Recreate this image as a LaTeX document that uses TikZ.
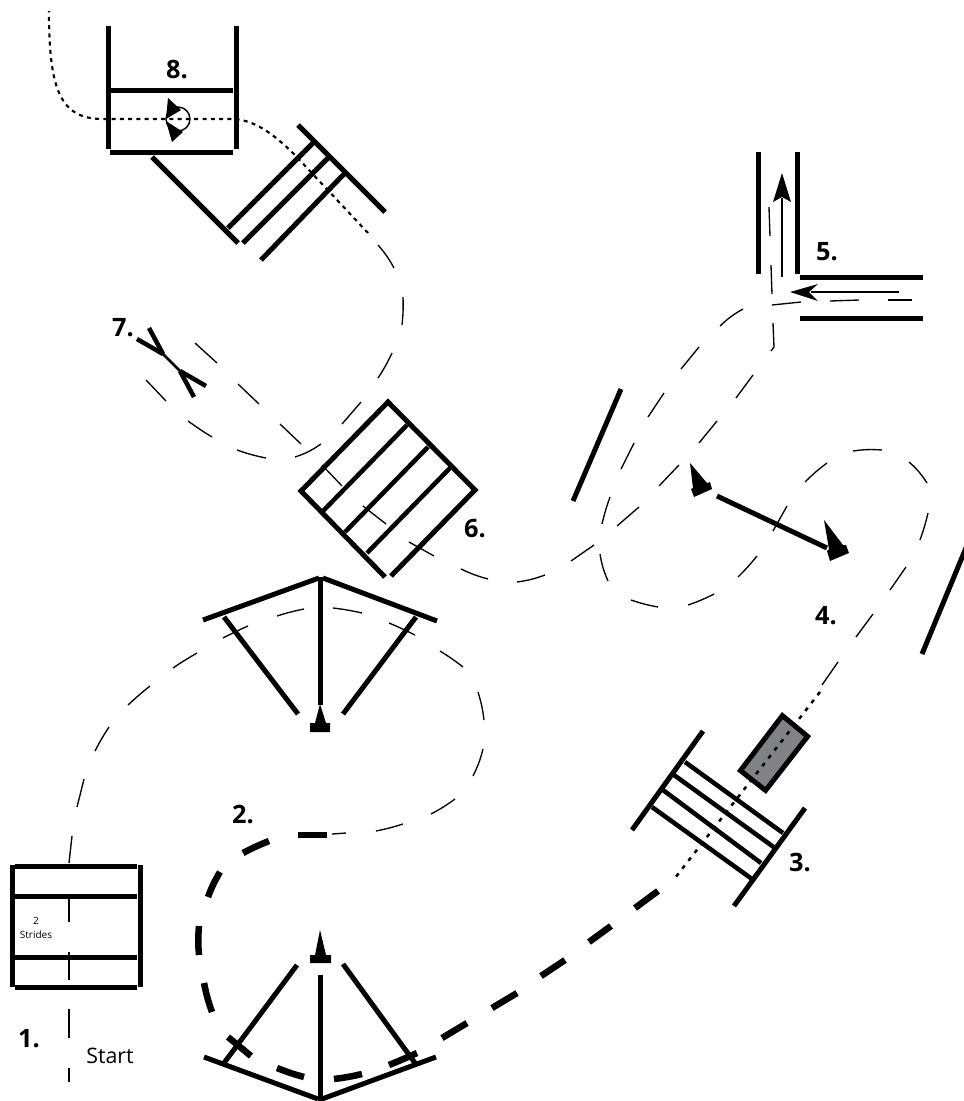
\documentclass[tikz,border=0pt]{standalone}
\usepackage{fontspec}
\setmainfont{Open Sans}
\definecolor{JumpGrey}{HTML}{808285}
\tikzset{
  pole/.style={black,line width=3.75pt},
  rail/.style={black,line width=3.4pt},
  route/.style={black,line width=1pt},
  heavyroute/.style={black,line width=4.9pt},
  dotroute/.style={black,line width=1.6pt,dash pattern=on 3pt off 3.2pt},
  dotroutewide/.style={black,line width=1.9pt,dash pattern=on 3pt off 4.5pt},
  pointer/.style={black,line width=1pt},
  head/.style={fill=black,draw=none},
  number/.style={text=black,font=\fontsize{19}{21}\selectfont\bfseries,inner sep=0pt},
  startlabel/.style={text=black,font=\fontsize{16}{18}\selectfont,inner sep=0pt},
  stridelabel/.style={text=black,font=\fontsize{7.5}{11}\selectfont,align=center,inner sep=0pt},
}

\begin{document}
\begin{tikzpicture}[x=.75pt,y=-.75pt]
    \useasboundingbox (0,0) rectangle (964,1101);

    % 1. double
    \draw[pole] (12,865)--(12,987);
    \draw[pole] (140,865)--(140,987);
    \foreach \ybar in {866,896,957,987}
      \draw[pole] (15,\ybar)--(137,\ybar);

    % wing jump at the bottom
    \draw[pole] (204,1057)--(318,1099);
    \draw[pole] (322,1099)--(436,1057);
    \draw[pole] (320,975)--(320,1101);
    \draw[pole] (297,965)--(224,1063);
    \draw[pole] (343,964)--(415,1063);
    \fill[head] (320,930)--(326,955)--(331,955)--(331,963)--(310,963)--(310,955)--(315,955)--cycle;

    % wing jump at the top
    \draw[pole] (203,620)--(319,578);
    \draw[pole] (323,578)--(437,621);
    \draw[pole] (320,577)--(320,705);
    \draw[pole] (224,617)--(298,714);
    \draw[pole] (416,617)--(343,714);
    \fill[head] (320,704)--(326,723)--(330,723)--(330,732)--(310,732)--(310,723)--(315,723)--cycle;

    % 3. spread with the grey board
    \draw[pole] (703,731)--(632,830);
    \draw[pole] (805,808)--(734,906);
    \draw[rail] (685,762)--(783,833);
    \draw[rail] (674,775)--(775,848);
    \draw[rail] (663,790)--(761,863);
    \draw[rail] (652,807)--(752,879);
    \draw[pole,fill=JumpGrey,line join=miter] (782.4,715.6)--(807.6,736.4)--(765.6,790.4)--(740.4,770.6)--cycle;

    % 4. long bar and its arrows
    \draw[pole] (621,389)--(573,501);
    \draw[pole] (968,543)--(922,654);
    \draw[pole] (717,496)--(827,548);
    \fill[head] (690,463)--(707,483)--(710,482)--(712,489)--(694,497)--(691,489)--(693,488)--cycle;
    \fill[head] (824,520)--(843,545)--(846,545)--(849,553)--(830,561)--(827,551)--(829,549)--cycle;

    % 5. corner
    \draw[pole] (758,152)--(758,274);
    \draw[pole] (797,152)--(797,274);
    \draw[pole] (800,277)--(923,277);
    \draw[pole] (800,318)--(923,318);
    \draw[pointer] (782,277)--(782,198);
    \fill[head] (782,173)--(791,202)--(782,197)--(773,202)--cycle;
    \draw[pointer] (899,292)--(811,292);
    \fill[head] (790,292)--(818,284)--(809,292)--(818,301)--cycle;

    % 6. square spread
    \draw[pole,line join=miter] (385,577)--(301,491)--(388,402)--(475,490)--(391,576);
    \draw[rail] (407,425)--(323,511);
    \draw[rail] (428,447)--(345,532);
    \draw[rail] (450,468)--(367,553);

    % 7. flag
    \draw[rail] (137,339)--(163,354);
    \draw[rail] (149,328)--(163,354);
    \draw[line width=2pt] (163,354)--(180,371);
    \draw[rail] (180,371)--(206,386);
    \draw[rail] (180,371)--(194,397);

    % 8. last double and triple
    \draw[pole] (108,26)--(108,149);
    \draw[pole] (236,26)--(236,149);
    \draw[pole] (110,90)--(233,90);
    \draw[pole] (110,152)--(233,152);
    \draw[pole] (152,157)--(238,243);
    \draw[pole] (298,125)--(385,212);
    \draw[pole] (228,228)--(313,143);
    \draw[pole] (243,243)--(328,158);
    \draw[pole] (261,260)--(344,174);
    \draw[line width=1.1pt] (178,119) circle (12);
    \fill[head] (168,98)--(166,119)--(181,110)--cycle;
    \fill[head] (172,142)--(166,121)--(183,132)--cycle;

    % route, thin pieces
    \foreach \xa/\ya/\xb/\yb/\bow in {
      69/1082/69/1068/0, 69/1038/69/1009/0, 69/980/69/952/0, 69/922/69/895/0,
      69/863/72/836/0, 77/807/84/779/0, 95/751/109/727/3, 128/705/150/686/2,
      173/668/197/653/2, 223/638/248/626/2, 277/616/304/609/3, 333/608/362/613/3,
      389/623/415/635/2, 440/651/463/667/3, 478/692/484/720/5, 483/749/473/776/6,
      455/799/431/814/4, 403/824/376/831/3, 346/833/332/834/0,
      822/685/838/662/0, 856/637/873/614/0, 890/590/906/567/0, 920/540/928/513/-3,
      927/483/909/462/-8, 882/450/853/451/-6, 827/463/805/482/-4, 787/506/773/531/0,
      757/556/738/577/3, 714/594/688/605/4, 658/607/631/600/4, 608/581/600/554/7,
      602/524/610/497/3, 621/469/634/443/0, 648/417/664/393/0, 681/369/699/347/0,
      720/326/743/309/7, 772/305/801/302/0, 830/301/859/300/0, 888/300/912/300/0,
      772/294/771/265/0, 770/236/769/207/0, 773/323/774/347/0, 774/347/771/351/0,
      753/375/736/398/0, 717/421/699/443/0, 679/465/659/486/0, 639/507/617/526/0,
      594/545/571/561/0, 545/575/517/582/6, 488/579/461/569/5, 434/556/409/542/0,
      386/524/363/506/0, 342/486/322/465/0, 301/444/280/424/0, 259/404/238/384/0,
      217/363/195/343/0, 146/380/166/401/0, 188/421/212/437/-2, 237/450/266/458/-4,
      295/457/321/444/-8, 342/424/361/402/0, 378/378/392/353/-4, 402/325/403/297/-4,
      394/268/378/245/-6}
      \draw[route] (\xa,\ya) to[bend left=\bow] (\xb,\yb);

    % route, heavy pieces
    \foreach \xa/\ya/\xb/\yb/\bow in {
      327/835/298/835/0, 269/841/243/853/-3, 220/872/208/897/-5, 199/926/199/955/-5,
      204/983/212/1012/-4, 228/1037/251/1056/0, 277/1068/304/1077/-3, 334/1079/362/1074/-3,
      389/1065/417/1053/-1, 442/1038/467/1023/0, 492/1008/517/993/0, 541/976/565/960/0,
      589/942/611/926/0, 635/908/658/891/0}
      \draw[heavyroute] (\xa,\ya) to[bend left=\bow] (\xb,\yb);

    % route, dotted pieces
    \draw[dotroutewide] (820,692)--(675,878);
    \draw[dotroute] (368,233)--(293,153) .. controls (267,128) and (250,119) .. (230,119)--(103,119)
      .. controls (60,119) and (49,90) .. (49,11);

    \node[number] (one) at (29,1039) {1.};
    \node[number] (two) at (243,814) {2.};
    \node[number] (three) at (800,862) {3.};
    \node[number] (four) at (826,616) {4.};
    \node[number] (five) at (827,252) {5.};
    \node[number] (six) at (475,529) {6.};
    \node[number] (seven) at (123,328) {7.};
    \node[number] (eight) at (177,69) {8.};
    \node[startlabel] (start) at (110,1056) {Start};
    \node[stridelabel] (strides) at (36,928) {2\\Strides};
  \end{tikzpicture}
\end{document}
